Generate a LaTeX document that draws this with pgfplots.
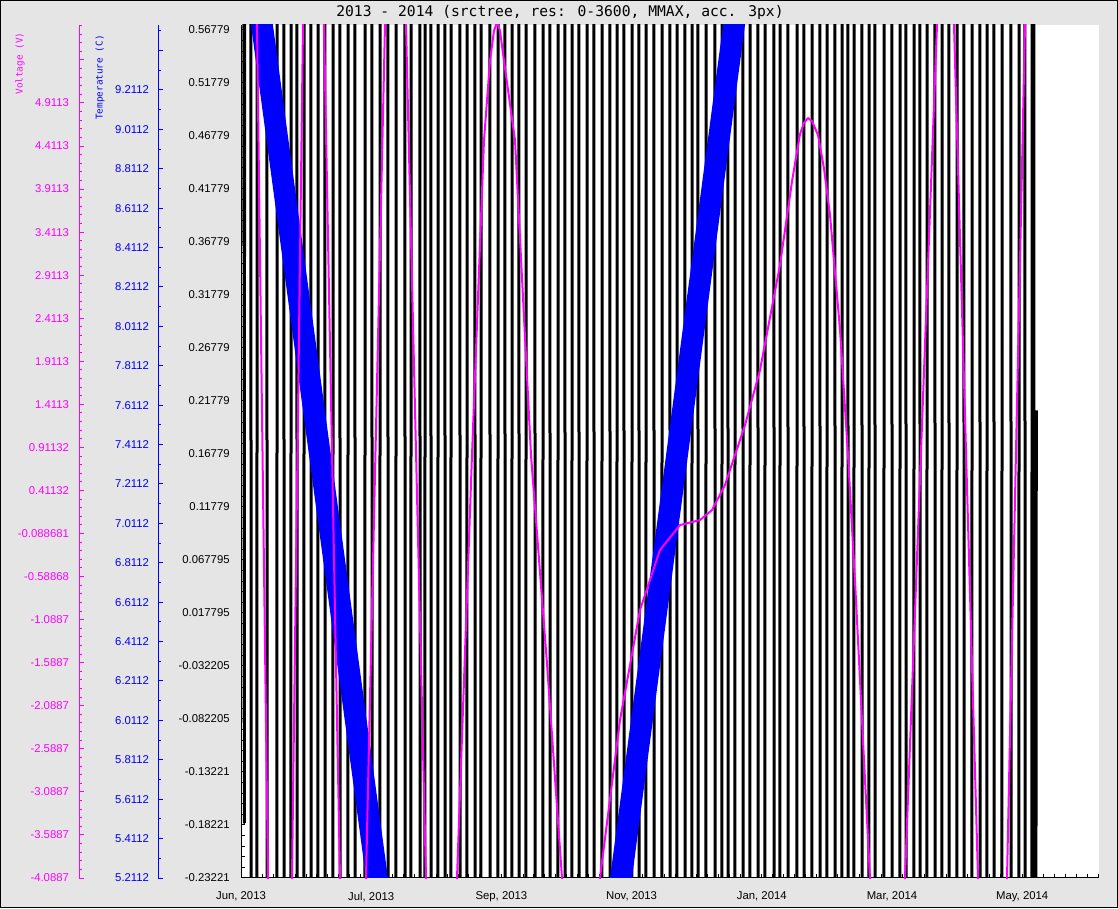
\documentclass[border=0pt]{standalone}
\usepackage{fontspec}
\setmainfont{Liberation Sans}
\newfontfamily\monofont{DejaVu Sans Mono}
\usepackage{pgfplots}
\pgfplotsset{compat=1.18}
\definecolor{bgGray}{RGB}{229,229,229}
\definecolor{cMag}{RGB}{255,0,255}
\definecolor{cBlue}{RGB}{0,0,255}

\pgfplotsset{
  panel/.style={scale only axis, width=643.5pt, height=639.75pt,
    at={(180.75pt,22.5pt)}, anchor=south west, xmin=241, xmax=1099},
  scalebar/.style={scale only axis, width=1pt, height=639.75pt,
    anchor=south west, xmin=0, xmax=1, axis x line=none, axis y line*=left,
    tick align=inside, major tick length=3.75pt, minor tick length=2.25pt,
    tick label style={font=\fontsize{8.5}{10}\selectfont}},
}

\begin{document}
\begin{tikzpicture}
\useasboundingbox (0,0) rectangle (838.5pt,681pt);
\fill[bgGray] (0,0) rectangle (838.5pt,681pt);
\draw[black, line width=1pt] (0.5pt,0.5pt) rectangle (838pt,680.5pt);

% temperature (blue) scale
\begin{axis}[scalebar, at={(118.5pt,22.5pt)}, ymin=5.2112, ymax=9.541,
  axis line style={cBlue, line width=0.75pt}, tick style={cBlue, line width=0.75pt},
  yticklabel style={text=cBlue, xshift=-3.2pt},
  ytick={5.2112,5.4112,5.6112,5.8112,6.0112,6.2112,6.4112,6.6112,6.8112,7.0112,7.2112,
         7.4112,7.6112,7.8112,8.0112,8.2112,8.4112,8.6112,8.8112,9.0112,9.2112,9.4112},
  yticklabels={5.2112,5.4112,5.6112,5.8112,6.0112,6.2112,6.4112,6.6112,6.8112,7.0112,7.2112,
         7.4112,7.6112,7.8112,8.0112,8.2112,8.4112,8.6112,8.8112,9.0112,9.2112,{}},
  minor ytick={5.3112,5.5112,...,9.55}]
\end{axis}

% voltage (magenta) scale
\begin{axis}[scalebar, at={(59.25pt,22.5pt)}, ymin=-4.0887, ymax=5.817,
  axis line style={cMag, line width=0.75pt}, tick style={cMag, line width=0.75pt},
  yticklabel style={text=cMag, xshift=-4pt},
  ytick={-4.0887,-3.5887,-3.0887,-2.5887,-2.0887,-1.5887,-1.0887,-0.58868,-0.088681,
         0.41132,0.91132,1.4113,1.9113,2.4113,2.9113,3.4113,3.9113,4.4113,4.9113,5.4113},
  yticklabels={-4.0887,-3.5887,-3.0887,-2.5887,-2.0887,-1.5887,-1.0887,-0.58868,-0.088681,
         0.41132,0.91132,1.4113,1.9113,2.4113,2.9113,3.4113,3.9113,4.4113,4.9113,{}},
  minor ytick={-3.9887,-3.8887,...,5.82}]
\end{axis}

\node[font=\monofont\fontsize{7}{8}\selectfont, text=cMag, rotate=90, anchor=east]
  at (15pt,660pt) {Voltage (V)};
\node[font=\monofont\fontsize{7}{8}\selectfont, text=cBlue, rotate=90, anchor=east]
  at (75pt,658pt) {Temperature (C)};
\node[font=\monofont\fontsize{11}{13}\selectfont] at (420pt,672pt)
  {2013 - 2014 (srctree, res: 0-3600, MMAX, acc. 3px)};

% main panel, black series
\begin{axis}[panel, axis background/.style={fill=white},
  axis x line*=bottom, axis y line*=left,
  ymin=-0.23221, ymax=0.5725,
  tick align=inside, major tick length=3pt, minor tick length=3pt,
  axis line style={black, line width=0.75pt}, tick style={black, line width=0.75pt},
  tick label style={font=\fontsize{8.5}{10}\selectfont},
  yticklabel style={xshift=-5pt}, xticklabel style={yshift=-7pt},
  xtick={241,371.2,501.4,631.6,761.8,892,1022.2},
  xticklabels={{Jun, 2013},{Jul, 2013},{Sep, 2013},{Nov, 2013},{Jan, 2014},{Mar, 2014},{May, 2014}},
  minor xtick={241,251.85,...,1099},
  ytick={-0.23221,-0.18221,-0.13221,-0.082205,-0.032205,0.017795,0.067795,0.11779,0.16779,
         0.21779,0.26779,0.31779,0.36779,0.41779,0.46779,0.51779,0.56779},
  yticklabels={-0.23221,-0.18221,-0.13221,-0.082205,-0.032205,0.017795,0.067795,0.11779,0.16779,
         0.21779,0.26779,0.31779,0.36779,0.41779,0.46779,0.51779,0.56779},
  minor ytick={-0.22221,-0.21221,...,0.5725}]
\addplot[black, line width=2.25pt, line join=round] coordinates {
 (243.7,0.9)(244.3,-0.18)(244.7,0.9)
 (250.7,0.9)(251.3,-0.55)(256.7,-0.55)(257.3,0.9)(266.7,0.9)(267.3,-0.55)(276.7,-0.55)(277.3,0.9)
 (283.7,0.9)(284.3,-0.55)(290.7,-0.55)(291.3,0.9)(296.7,0.9)(297.3,-0.55)(303.7,-0.55)(304.3,0.9)
 (310.7,0.9)(311.3,-0.55)(317.7,-0.55)(318.3,0.9)(324.7,0.9)(325.3,-0.55)(332.7,-0.55)(333.3,0.9)
 (339.7,0.9)(340.3,-0.55)(347.7,-0.55)(348.3,0.9)(354.7,0.9)(355.3,-0.55)(364.7,-0.55)(365.3,0.9)
 (371.7,0.9)(372.3,-0.55)(379.7,-0.55)(380.3,0.9)(387.7,0.9)(388.3,-0.55)(395.7,-0.55)(396.3,0.9)
 (404.7,0.9)(405.3,-0.55)(410.7,-0.55)(411.3,0.9)(419.7,0.9)(420.3,-0.55)(424.7,-0.55)(425.3,0.9)
 (430.7,0.9)(431.3,-0.55)(437.7,-0.55)(438.3,0.9)(444.7,0.9)(445.3,-0.55)(450.7,-0.55)(451.3,0.9)
 (459.7,0.9)(460.3,-0.55)(466.7,-0.55)(467.3,0.9)(474.7,0.9)(475.3,-0.55)(480.7,-0.55)(481.3,0.9)
 (489.7,0.9)(490.3,-0.55)(497.7,-0.55)(498.3,0.9)(504.7,0.9)(505.3,-0.55)(511.7,-0.55)(512.3,0.9)
 (518.7,0.9)(519.3,-0.55)(525.7,-0.55)(526.3,0.9)(534.7,0.9)(535.3,-0.55)(542.7,-0.55)(543.3,0.9)
 (549.7,0.9)(550.3,-0.55)(557.7,-0.55)(558.3,0.9)(564.7,0.9)(565.3,-0.55)(571.7,-0.55)(572.3,0.9)
 (578.7,0.9)(579.3,-0.55)(586.7,-0.55)(587.3,0.9)(593.7,0.9)(594.3,-0.55)(601.7,-0.55)(602.3,0.9)
 (609.7,0.9)(610.3,-0.55)(616.7,-0.55)(617.3,0.9)(623.7,0.9)(624.3,-0.55)(631.7,-0.55)(632.3,0.9)
 (638.7,0.9)(639.3,-0.55)(645.7,-0.55)(646.3,0.9)(653.7,0.9)(654.3,-0.55)(661.7,-0.55)(662.3,0.9)
 (669.7,0.9)(670.3,-0.55)(676.7,-0.55)(677.3,0.9)(684.7,0.9)(685.3,-0.55)(691.7,-0.55)(692.3,0.9)
 (697.7,0.9)(698.3,-0.55)(705.7,-0.55)(706.3,0.9)(714.7,0.9)(715.3,-0.55)(721.7,-0.55)(722.3,0.9)
 (727.7,0.9)(728.3,-0.55)(734.7,-0.55)(735.3,0.9)(742.7,0.9)(743.3,-0.55)(749.7,-0.55)(750.3,0.9)
 (757.7,0.9)(758.3,-0.55)(764.7,-0.55)(765.3,0.9)(773.7,0.9)(774.3,-0.55)(779.7,-0.55)(780.3,0.9)
 (787.7,0.9)(788.3,-0.55)(796.7,-0.55)(797.3,0.9)(803.7,0.9)(804.3,-0.55)(811.7,-0.55)(812.3,0.9)
 (819.7,0.9)(820.3,-0.55)(826.7,-0.55)(827.3,0.9)(834.7,0.9)(835.3,-0.55)(841.7,-0.55)(842.3,0.9)
 (847.7,0.9)(848.3,-0.55)(853.7,-0.55)(854.3,0.9)(861.7,0.9)(862.3,-0.55)(868.7,-0.55)(869.3,0.9)
 (874.7,0.9)(875.3,-0.55)(883.7,-0.55)(884.3,0.9)(891.7,0.9)(892.3,-0.55)(899.7,-0.55)(900.3,0.9)
 (905.7,0.9)(906.3,-0.55)(913.7,-0.55)(914.3,0.9)(919.7,0.9)(920.3,-0.55)(926.7,-0.55)(927.3,0.9)
 (934.7,0.9)(935.3,-0.55)(941.7,-0.55)(942.3,0.9)(948.7,0.9)(949.3,-0.55)(956.7,-0.55)(957.3,0.9)
 (963.7,0.9)(964.3,-0.55)(971.7,-0.55)(972.3,0.9)(979.7,0.9)(980.3,-0.55)(986.7,-0.55)(987.3,0.9)
 (993.7,0.9)(994.3,-0.55)(1001.7,-0.55)(1002.3,0.9)(1010.7,0.9)(1011.3,-0.55)(1018.7,-0.55)(1019.3,0.9)
 (1024.7,0.9)(1025.3,-0.55)(1031.7,-0.55)(1032.3,0.9)(1033.7,0.9)(1034.3,-0.55)(1035.7,-0.55)(1036.3,0.209)
};
\end{axis}

% temperature series (blue)
\begin{axis}[panel, hide axis, ymin=5.2112, ymax=9.541]
\addplot[cBlue, line width=16.3pt] coordinates {
 (245,10.18)(395,4.533)(500,3.0)(605,4.598)(750,10.154)(760,11)
};
\end{axis}

% voltage series (magenta)
\begin{axis}[panel, hide axis, ymin=-4.0887, ymax=5.817]
\addplot[cMag, line width=1.5pt, line join=round] coordinates {
 (243,7.0)(257,5.817)(268,-4.0887)(280,-6.0)(292,-4.0887)(303,5.817)(313,7.0)
 (324,5.817)(340,-4.0887)(353,-6.0)(366,-4.0887)(385,5.817)(395,7.0)
 (406,5.817)(426,-4.0887)(441,-6.0)(457,-4.0887)(472,0.823)(484,4.48)
 (490,5.4)(494,5.75)(497,5.85)(500,5.75)(504,5.4)(515,4.48)(531,0.823)(547,-1.6)(562,-4.0887)
 (580,-6.0)(600,-4.0887)(620,-2.255)(640,-0.977)(660,-0.28)(680,0.01)
 (700,0.068)(712,0.184)(725,0.475)(735,0.823)(745,1.17)(760,1.81)
 (780,3.03)(792,4.0)(800,4.55)(804,4.68)(808,4.737)(812,4.70)(818,4.54)(824,4.15)(830,3.61)(840,2.28)
 (848,0.823)(856,-0.86)(864,-2.72)(870,-4.0887)(888,-6.0)(905,-4.0887)
 (937,5.817)(946,7.0)(954,5.817)(978,-4.0887)(993,-6.0)(1007,-4.0887)
 (1025,5.817)(1028,7.0)
};
\end{axis}
\end{tikzpicture}
\end{document}
